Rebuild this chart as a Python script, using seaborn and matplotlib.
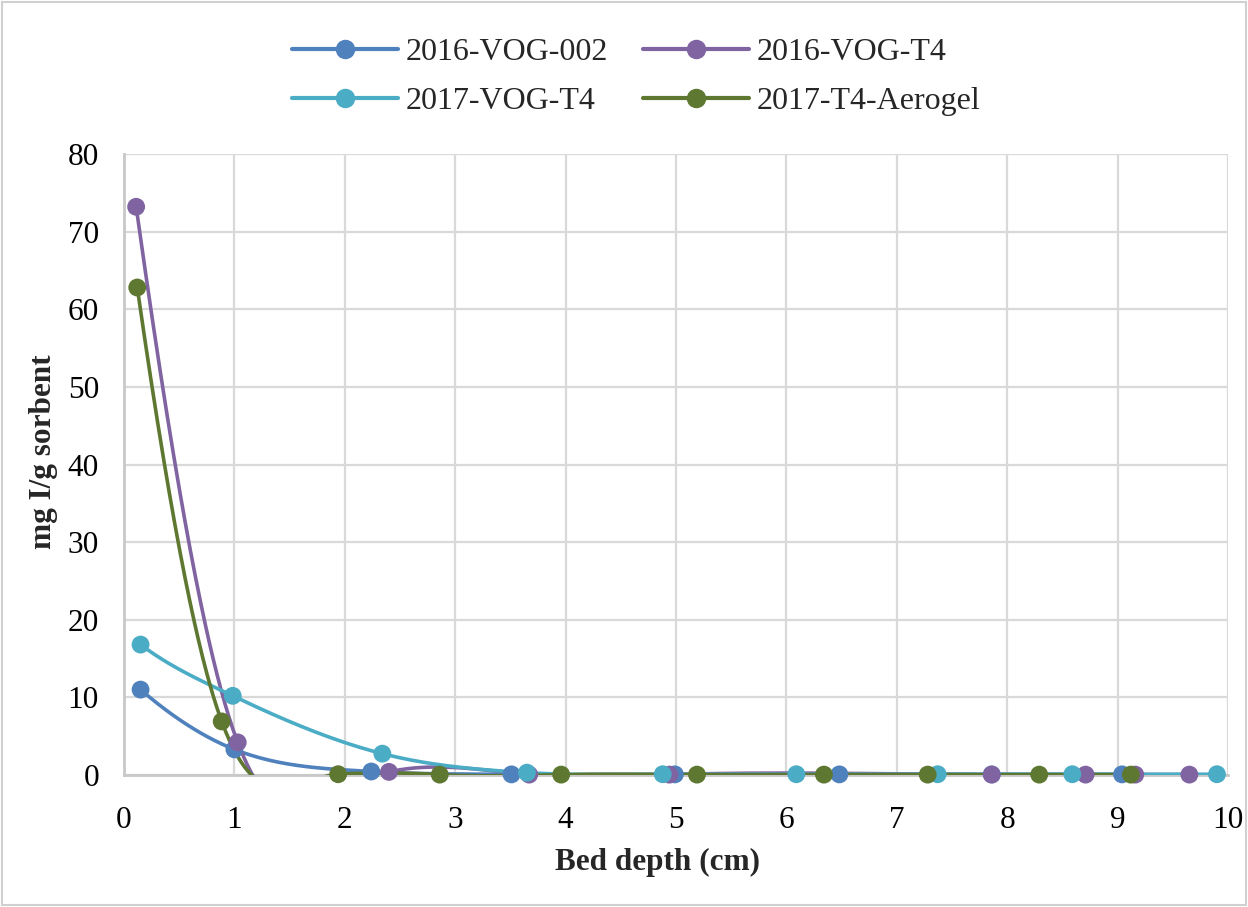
import numpy as np
import pandas as pd
import matplotlib
matplotlib.use("Agg")
import matplotlib.pyplot as plt
from matplotlib.lines import Line2D
from matplotlib.patches import Rectangle
import seaborn as sns

# Iodine loading along the sorbent bed for each test
series_names = ["2016-VOG-002", "2016-VOG-T4", "2017-VOG-T4", "2017-T4-Aerogel"]

depth_vog002_2016 = [0.15, 1.00, 2.24, 3.51, 4.99, 6.48, 7.86, 9.04]
load_vog002_2016 = [11.0, 3.3, 0.45, 0.08, 0.08, 0.08, 0.08, 0.08]

depth_t4_2016 = [0.11, 1.03, 2.40, 3.67, 4.94, 7.86, 8.71, 9.16, 9.65]
load_t4_2016 = [73.2, 4.2, 0.4, 0.05, 0.05, 0.05, 0.05, 0.05, 0.05]

depth_t4_2017 = [0.15, 0.985, 2.34, 3.65, 4.88, 6.09, 7.37, 8.59, 9.90]
load_t4_2017 = [16.8, 10.2, 2.75, 0.3, 0.1, 0.1, 0.1, 0.1, 0.1]

depth_aerogel_2017 = [0.12, 0.885, 1.94, 2.86, 3.96, 5.19, 6.34, 7.28, 8.29, 9.12]
load_aerogel_2017 = [62.8, 6.9, 0.1, 0.05, 0.05, 0.05, 0.05, 0.05, 0.05, 0.05]

x_ticks = [0, 1, 2, 3, 4, 5, 6, 7, 8, 9, 10]
y_ticks = [0, 10, 20, 30, 40, 50, 60, 70, 80]

colors = ["#4F81BD", "#8064A2", "#4BACC6", "#5E7731"]

depths = [depth_vog002_2016, depth_t4_2016, depth_t4_2017, depth_aerogel_2017]
loads = [load_vog002_2016, load_t4_2016, load_t4_2017, load_aerogel_2017]


def natural_slopes(x, y):
    m = len(x)
    h = np.diff(x)
    A = np.zeros((m, m))
    r = np.zeros(m)
    A[0, 0] = A[-1, -1] = 1.0
    for i in range(1, m - 1):
        A[i, i - 1] = h[i - 1]
        A[i, i] = 2 * (h[i - 1] + h[i])
        A[i, i + 1] = h[i]
        r[i] = 6 * ((y[i + 1] - y[i]) / h[i] - (y[i] - y[i - 1]) / h[i - 1])
    M = np.linalg.solve(A, r)
    s = np.empty(m)
    s[:-1] = np.diff(y) / h - h * (2 * M[:-1] + M[1:]) / 6
    s[-1] = (y[-1] - y[-2]) / h[-1] + h[-1] * (M[-2] + 2 * M[-1]) / 6
    return s


def centred_slopes(x, y):
    s = np.empty(len(x))
    s[1:-1] = (y[2:] - y[:-2]) / (x[2:] - x[:-2])
    s[0] = (y[1] - y[0]) / (x[1] - x[0])
    s[-1] = (y[-1] - y[-2]) / (x[-1] - x[-2])
    return s


def smooth_curve(xs, ys, n=80, w=0.55):
    """C1 cubic Hermite curve; knot slopes mix centred and natural-spline estimates."""
    x = np.asarray(xs, float)
    y = np.asarray(ys, float)
    s = w * centred_slopes(x, y) + (1 - w) * natural_slopes(x, y)
    s[0] = centred_slopes(x, y)[0] * 1.35
    xx, yy = [], []
    for i in range(len(x) - 1):
        h = x[i + 1] - x[i]
        u = np.linspace(0, 1, n)
        h00 = 2 * u ** 3 - 3 * u ** 2 + 1
        h10 = u ** 3 - 2 * u ** 2 + u
        h01 = -2 * u ** 3 + 3 * u ** 2
        h11 = u ** 3 - u ** 2
        seg = h00 * y[i] + h10 * h * s[i] + h01 * y[i + 1] + h11 * h * s[i + 1]
        xs_seg = x[i] + u * h
        xx.append(xs_seg if i == 0 else xs_seg[1:])
        yy.append(seg if i == 0 else seg[1:])
    return np.concatenate(xx), np.concatenate(yy)


curve_frames, point_frames = [], []
for name, xs, ys in zip(series_names, depths, loads):
    cx, cy = smooth_curve(xs, ys)
    curve_frames.append(pd.DataFrame({"depth": cx, "load": cy, "series": name}))
    point_frames.append(pd.DataFrame({"depth": xs, "load": ys, "series": name}))
curves = pd.concat(curve_frames, ignore_index=True)
points = pd.concat(point_frames, ignore_index=True)

sns.set_theme(style="white")
plt.rcParams["font.family"] = ["Liberation Serif", "DejaVu Serif"]

fig = plt.figure(figsize=(12.48, 9.07), dpi=100)
ax = fig.add_axes([124 / 1248, 1 - 775 / 907, (1228 - 124) / 1248, (775 - 154) / 907])

palette = dict(zip(series_names, colors))
for name in series_names:
    sub = curves[curves["series"] == name]
    sns.lineplot(data=sub, x="depth", y="load", color=palette[name], sort=False,
                 estimator=None, lw=2.6, ax=ax, legend=False, zorder=3)
    pts = points[points["series"] == name]
    ax.scatter(pts["depth"], pts["load"], s=165, color=palette[name],
               edgecolors="none", zorder=4, clip_on=False)

ax.set_xlim(0, 10)
ax.set_ylim(0, 80)
ax.set_xticks(x_ticks)
ax.set_yticks(y_ticks)
ax.grid(True, color="#D9D9D9", lw=1.6)
ax.set_axisbelow(True)
for s in ["top", "right"]:
    ax.spines[s].set_visible(False)
for s in ["left", "bottom"]:
    ax.spines[s].set_color("#C8C8C8")
    ax.spines[s].set_linewidth(2.0)
ax.tick_params(axis="both", length=0, labelsize=22.5, colors="black")
ax.tick_params(axis="y", pad=18)
ax.tick_params(axis="x", pad=22)
ax.set_xlabel("Bed depth (cm)", fontsize=22.5, fontweight="bold")
ax.set_ylabel("mg I/g sorbent", fontsize=22.5, fontweight="bold")
ax.xaxis.set_label_coords(0.483, -0.118)
ax.yaxis.set_label_coords(-0.060, 0.52)

# two-column legend filled row by row
order = [0, 2, 1, 3]
handles = [Line2D([0], [0], color=colors[i], lw=3, marker="o", markersize=13) for i in order]
labels = [series_names[i] for i in order]
fig.legend(handles, labels, loc="upper center", bbox_to_anchor=(0.51, 0.99), ncol=2,
           frameon=False, fontsize=23, handlelength=3.3, columnspacing=1.1,
           handletextpad=0.25, labelspacing=0.62)

fig.patches.append(Rectangle((0.002, 0.002), 0.996, 0.996, transform=fig.transFigure,
                             fill=False, edgecolor="#D0D0D0", lw=1.5))

fig.savefig("out.png", dpi=100, facecolor="white")
